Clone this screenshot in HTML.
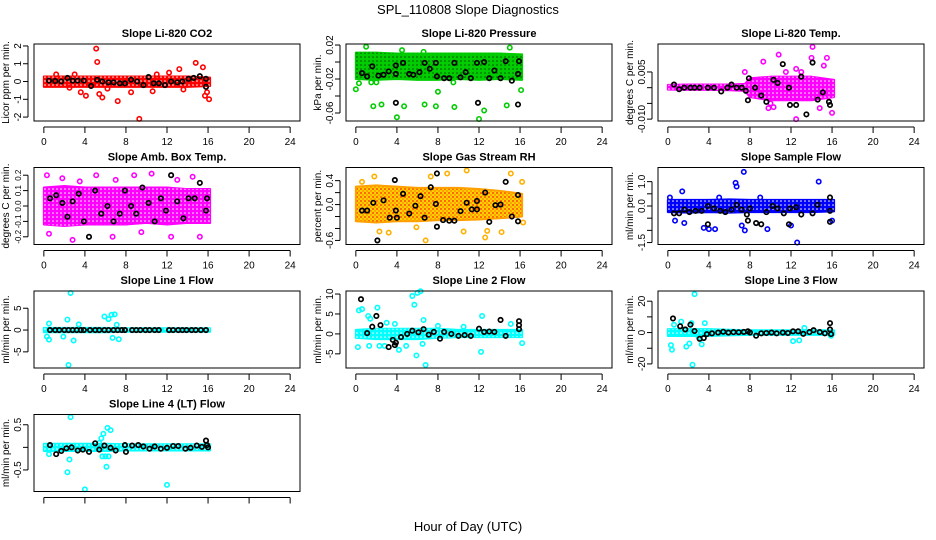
<!DOCTYPE html>
<html><head><meta charset="utf-8"><style>
body{margin:0;background:#fff}
svg{display:block;font-family:"Liberation Sans",sans-serif}
</style></head><body>
<svg id="chart" width="936" height="540" viewBox="0 0 936 540">
<defs>
<pattern id="speck" width="4" height="4" patternUnits="userSpaceOnUse"><circle cx="1" cy="1" r="0.8" fill="#fff"/></pattern>
<pattern id="speck2" width="4" height="4" patternUnits="userSpaceOnUse"><circle cx="1" cy="1" r="0.8" fill="#000" opacity="0.6"/></pattern>
<pattern id="speck3" width="4" height="4" patternUnits="userSpaceOnUse"><rect width="4" height="4" fill="#ffd000"/><circle cx="1" cy="1" r="0.9" fill="#ff2000"/><circle cx="3" cy="3" r="0.9" fill="#ff8000"/></pattern>
</defs>
<text x="468" y="14" text-anchor="middle" font-size="13">SPL_110808  Slope Diagnostics</text>
<text x="468" y="531" text-anchor="middle" font-size="13">Hour of Day (UTC)</text>
</svg>
<script>
const titles=["Slope Li-820 CO2","Slope Li-820 Pressure","Slope Li-820 Temp.","Slope Amb. Box Temp.","Slope Gas Stream RH","Slope Sample Flow","Slope Line 1 Flow","Slope Line 2 Flow","Slope Line 3 Flow","Slope Line 4 (LT) Flow"];
const yTitles=["Licor ppm per min.","kPa per min.","degrees C per min.","degrees C per min.","percent per min.","ml/min per min.","ml/min per min.","ml/min per min.","ml/min per min.","ml/min per min."];
const yLims=[[-2.22,2.11],[-0.0694,0.0212],[-0.0106,0.0139],[-0.25,0.25],[-0.668,0.62],[-1.58,1.58],[-8.7,8.95],[-8.55,10.76],[-22.6,26.5],[-0.977,0.727]];
const yTicks=[[-2,-1,0,1,2],[-0.06,-0.04,-0.02,0,0.02],[-0.01,-0.005,0,0.005],[-0.2,-0.1,0,0.1,0.2],[-0.6,-0.4,-0.2,0,0.2,0.4],[-1.5,-1,-0.5,0,0.5,1],[-5,0,5],[-5,0,5,10],[-20,-10,0,10,20],[-0.5,0,0.5]];
const yTickLabels=[["-2","-1","0","1","2"],["-0.06","","-0.02","","0.02"],["-0.010","","","0.005"],["-0.2","-0.1","0.0","0.1","0.2"],["-0.6","","","0.0","","0.4"],["-1.5","","","0.0","","1.0"],["-5","0","5"],["-5","0","5","10"],["-20","","0","","20"],["-0.5","","0.5"]];
const xTicks=[0,4,8,12,16,20,24];
const colors=["#ff0000","#00cc00","#ff00ff","#ff00ff","#ffa000","#0000ff","#00ffff","#00ffff","#00ffff","#00ffff"];
const bandX=[[0,2,4,6,8,10,12,14,16.2],[0,2,4,6,8,10,12,14,16.2],[0,2,4,6,7.5,8,10,12,14,16.2],[0,2,4,6,8,10,12,14,16.2],[0,2,4,6,8,10,12,14,16.2],[0,2,4,6,8,10,12,14,16.2],[0,2,4,6,8,10,12,14,16.2],[0,2,4,6,8,10,12,14,16.2],[0,2,4,6,8,10,12,14,16.2],[0,2,4,6,8,10,12,14,16.2]];
const bandLo=[[-0.3,-0.3,-0.3,-0.3,-0.3,-0.3,-0.3,-0.3,-0.25],[-0.02,-0.021,-0.02,-0.021,-0.021,-0.02,-0.021,-0.02,-0.021],[-0.0006,-0.0007,-0.0007,-0.0008,-0.001,-0.003,-0.004,-0.004,-0.004,-0.003],[-0.12,-0.13,-0.12,-0.12,-0.12,-0.11,-0.12,-0.11,-0.11],[-0.28,-0.3,-0.28,-0.28,-0.26,-0.26,-0.25,-0.23,-0.2],[-0.25,-0.27,-0.25,-0.27,-0.25,-0.25,-0.25,-0.25,-0.22],[-0.5,-0.5,-0.5,-0.5,-0.4,-0.4,-0.4,-0.4,-0.4],[-1.0,-1.3,-1.3,-1.3,-1.0,-0.8,-0.8,-0.8,-0.8],[-2.2,-2.2,-2.2,-1.8,-1.5,-1.5,-1.5,-1.5,-1.5],[-0.08,-0.08,-0.08,-0.08,-0.07,-0.07,-0.07,-0.07,-0.07]];
const bandHi=[[0.28,0.28,0.28,0.28,0.28,0.28,0.28,0.28,0.22],[0.011,0.011,0.01,0.01,0.01,0.01,0.01,0.01,0.009],[0.0009,0.001,0.001,0.001,0.0012,0.003,0.0035,0.0035,0.0035,0.0025],[0.12,0.13,0.12,0.12,0.12,0.12,0.12,0.11,0.11],[0.3,0.32,0.3,0.28,0.28,0.28,0.26,0.23,0.18],[0.25,0.25,0.25,0.27,0.25,0.25,0.25,0.25,0.25],[0.5,0.5,0.5,0.5,0.4,0.4,0.4,0.4,0.4],[1.0,1.3,1.3,1.3,1.3,1.0,1.0,1.0,1.0],[2.2,2.2,2.2,1.8,1.5,1.5,1.5,1.5,1.5],[0.08,0.08,0.08,0.08,0.07,0.07,0.07,0.07,0.07]];
const outliers=[
[[5.1,1.85],[5.2,1.1],[5.4,-0.7],[5.7,-0.9],[7.2,-1.1],[9.3,-2.1],[4.1,-0.8],[3.6,-0.6],[10.6,-0.55],[13.2,0.7],[14.8,1.05],[15.5,0.8],[16.1,-1.0],[15.9,-0.6],[15.7,-0.8],[12.2,0.5],[13.6,-0.45],[8.5,-0.6],[6.2,-0.4],[1.2,0.4],[2.5,-0.35],[11.0,0.4],[3.0,0.4]],
[[0,-0.032],[0.3,-0.025],[1.0,0.018],[2.0,-0.024],[1.7,-0.052],[2.5,-0.05],[4.0,-0.065],[4.7,-0.052],[6.6,0.012],[6.7,-0.05],[8.0,-0.035],[9.6,-0.053],[12.0,-0.067],[12.5,-0.057],[14.7,-0.051],[15.0,0.017],[16.1,-0.033],[7.8,-0.052],[1.5,-0.024],[4.5,0.014],[9.5,-0.024]],
[[9.3,0.0083],[10.8,0.0105],[12.5,0.006],[14.1,0.013],[14.0,0.0095],[15.2,0.007],[15.5,0.0095],[12.5,-0.010],[9.8,-0.0065],[10.3,-0.0062],[14.8,-0.0065],[16.0,-0.008],[7.5,0.005],[13,0.005],[11.5,0.005],[10.0,-0.005]],
[[0.3,0.2],[0.5,-0.18],[2.8,-0.22],[5.1,0.2],[8.8,0.2],[10.5,0.21],[12.4,-0.2],[14.5,0.19],[15.2,-0.2],[6.7,-0.2],[1.8,0.18],[3.5,0.16],[7.0,0.17],[9.5,-0.17],[13,0.17]],
[[0.6,0.38],[1.8,0.47],[2.3,-0.45],[3.2,-0.47],[7.3,0.47],[6.8,-0.6],[5.9,-0.38],[8.9,0.52],[10.5,-0.45],[10.8,0.57],[12.6,-0.55],[12.8,-0.44],[14.2,-0.46],[15.1,0.52],[16.2,0.38],[16.3,-0.3]],
[[1.4,0.6],[1.6,-0.7],[0.7,-0.6],[3.5,-0.9],[4.0,-0.95],[4.6,-0.95],[6.6,0.95],[6.7,0.8],[7.4,1.4],[7.2,-0.8],[7.5,-1.0],[9.7,-0.95],[12.6,-1.5],[12.0,-0.8],[14.7,1.0],[16.0,-0.6],[0.2,0.35],[5.0,0.35],[9.0,0.35]],
[[0.5,1.5],[0.3,-1.5],[0.5,-2.2],[2.3,2.4],[2.6,8.5],[2.4,-8],[2.9,-2.4],[3.4,1.3],[1.9,-1.5],[5.9,3.1],[6.3,2.5],[6.6,3.5],[6.9,3.6],[7.3,-2.1],[6.7,-1.8],[7.1,1.2]],
[[0.2,-3.3],[0.3,5.9],[0.6,6.2],[1.2,4.5],[1.4,3.8],[1.3,-3],[2.1,6.6],[2.3,-3],[2.8,-3],[3.0,2.8],[3.8,2.5],[4.9,-3],[5.5,9.5],[5.7,7.3],[6.0,10.3],[6.3,10.7],[5.9,-5.4],[6.5,-2.5],[6.6,3.5],[6.8,-7.8],[12.3,4.5],[12.2,-4.5],[15.1,2.5],[16.2,-2.3],[4.2,-4],[8.0,2],[10.5,1.8]],
[[0.3,-8],[0.4,-11],[0.6,5],[1.3,7],[1.8,-9],[2.1,-7],[2.3,6],[2.6,24.5],[2.4,-20.5],[3.3,-7.5],[3.6,6],[3.0,-3],[12.2,-5.5],[12.8,-5],[13.3,3],[15.9,-2]],
[[2.6,0.67],[2.5,-0.27],[2.3,-0.55],[4.0,-0.93],[5.4,0.1],[5.6,0.2],[5.8,0.3],[6.2,0.43],[6.5,0.38],[5.7,-0.2],[6.0,-0.2],[6.3,-0.2],[6.1,-0.43],[12.0,-0.83],[0.5,-0.15]]];
const blackPts=[
[[0.5,0.05],[1.1,0.03],[1.7,0],[2.3,0.2],[2.8,0.05],[3.3,0.05],[3.9,0.05],[4.6,-0.25],[5.2,0.1],[5.7,0],[6.3,-0.05],[6.8,-0.05],[7.4,-0.1],[7.9,-0.1],[8.5,0.1],[9.1,0],[9.7,-0.2],[10.2,0.25],[10.7,-0.1],[11.2,-0.1],[11.8,-0.2],[12.4,0],[13.0,-0.05],[13.5,0],[14.1,0.15],[14.6,0.2],[15.2,0.3],[15.8,-0.3],[15.8,0.15]],
[[0.6,-0.013],[1.1,-0.017],[1.6,-0.005],[2.2,-0.016],[2.7,-0.015],[3.2,-0.011],[3.9,-0.014],[3.9,-0.004],[3.9,-0.048],[4.6,-0.001],[5.2,-0.014],[5.6,-0.015],[6.2,-0.012],[6.7,-0.001],[7.2,-0.008],[7.8,-0.001],[7.9,-0.017],[8.6,-0.019],[9.1,-0.019],[9.6,-0.001],[10.2,-0.018],[10.7,-0.012],[11.2,-0.019],[11.8,-0.001],[11.9,-0.048],[12.5,0],[13.0,-0.019],[13.5,-0.01],[14.1,-0.019],[14.6,0.001],[15.2,-0.022],[15.8,-0.014],[15.8,-0.05],[15.9,0.001]],
[[0.6,0.001],[1.1,-0.0005],[1.6,0],[2.2,0],[2.6,0],[3.1,0],[3.9,0],[4.5,0],[5.2,-0.0012],[5.8,0],[6.2,0.001],[6.7,0],[7.2,0],[7.6,-0.001],[7.8,-0.004],[7.9,0.003],[8.5,0],[9.1,-0.0025],[9.6,-0.0045],[10.3,0.0025],[10.7,0.0015],[11.2,0.0075],[11.8,0],[11.9,-0.0055],[12.5,-0.0055],[13.0,0.0035],[13.5,-0.0085],[14.1,0.008],[14.6,-0.0038],[15.1,-0.0015],[15.7,-0.0045],[15.8,-0.0055]],
[[0.6,0.05],[1.2,0.07],[1.8,0.02],[2.3,-0.07],[2.8,0.03],[3.4,0.08],[3.9,-0.1],[4.4,-0.2],[5.0,0.1],[5.6,-0.05],[6.2,0],[6.8,-0.1],[7.4,-0.05],[7.9,0.1],[8.5,0],[9.0,-0.05],[9.6,0.12],[10.2,0.02],[10.8,-0.1],[11.4,0.05],[11.9,-0.03],[12.4,0.2],[13.0,0.03],[13.6,-0.08],[14.1,0.05],[14.7,0.05],[15.2,0.15],[15.8,-0.03],[15.9,0.05]],
[[0.6,-0.1],[1.1,-0.1],[1.7,0.03],[2.1,-0.6],[2.7,0.07],[3.3,-0.22],[3.8,0.41],[3.9,-0.1],[4.0,-0.22],[4.6,0.18],[5.2,-0.15],[5.8,-0.02],[6.3,0.14],[6.7,-0.22],[7.3,0.29],[7.8,0.01],[7.9,-0.37],[7.9,0.52],[8.5,-0.26],[9.1,-0.27],[9.6,-0.27],[10.2,-0.11],[10.8,0.03],[11.3,-0.08],[11.8,-0.08],[11.8,0.06],[12.6,0.2],[13.0,-0.29],[13.6,-0.01],[14.1,0],[14.6,0.38],[15.2,-0.2],[15.8,-0.28],[15.8,0.16]],
[[0.6,-0.3],[1.1,-0.3],[1.6,-0.15],[2.1,-0.25],[2.7,-0.2],[3.3,-0.2],[3.9,0],[3.9,-0.75],[4.5,-0.1],[5.1,-0.2],[5.6,-0.25],[6.2,-0.15],[6.7,0.05],[7.2,-0.15],[7.7,-0.35],[7.8,-0.6],[8.0,-0.1],[8.6,-0.7],[9.1,-0.75],[9.6,-0.25],[10.2,0],[10.7,-0.1],[11.3,-0.3],[11.8,-0.75],[11.9,-0.1],[12.5,-0.05],[13.0,-0.35],[14.1,-0.3],[14.6,0.05],[15.8,0.35],[15.8,-0.65],[15.8,-0.2]],
[[0.6,0],[1.1,0],[1.5,0],[2.0,0],[2.4,0],[2.8,0],[3.2,0],[3.6,0],[3.9,0],[4.5,0],[5.0,0],[5.4,0],[5.9,0],[6.3,0],[6.8,0],[7.2,0],[7.6,0],[7.9,0],[8.6,0],[9.0,0],[9.4,0],[9.9,0],[10.3,0],[10.8,0],[11.2,0],[12.2,0],[12.6,0],[13.1,0],[13.5,0],[13.9,0],[14.4,0],[14.8,0],[15.3,0],[15.8,0]],
[[0.5,8.7],[1.1,0.2],[1.6,1.8],[2.0,4.5],[2.4,2.2],[3.2,-3.3],[3.6,-1.5],[3.8,-2.8],[3.9,-2.2],[4.4,-0.8],[5.0,0],[5.5,0.8],[6.1,0.4],[6.6,1.2],[7.1,-0.2],[7.6,0.5],[8.2,-1.2],[8.6,0.5],[9.3,0],[10.0,-0.5],[10.6,-0.3],[11.2,-0.5],[12.0,1.3],[12.5,0.5],[13.0,0.6],[13.5,0.5],[14.1,3.5],[14.6,-0.5],[15.9,3.2],[15.9,2.2],[15.9,1.2]],
[[0.5,9],[1.2,4],[1.7,2],[2.2,5],[2.6,1],[3.1,-4],[3.5,-3.5],[3.8,-1],[4.3,-0.5],[4.9,0],[5.4,0.5],[5.9,0],[6.4,0.3],[6.9,0.2],[7.4,0.4],[7.8,0.8],[8.0,0],[8.6,-2],[9.1,-0.5],[9.6,-0.3],[10.1,0],[10.6,-0.5],[11.2,0],[11.7,-0.3],[12.2,0.8],[12.7,0.8],[13.2,-0.8],[13.8,0.3],[14.2,1.5],[14.8,0.3],[15.3,-0.5],[15.8,6],[15.8,2],[15.9,-1]],
[[0.6,0.05],[1.2,-0.15],[1.7,-0.08],[2.2,-0.02],[2.7,0],[3.3,-0.07],[3.8,-0.05],[4.4,-0.1],[5.0,0.09],[5.4,-0.05],[5.9,0.04],[6.5,-0.01],[7.0,-0.07],[7.9,0.05],[8.0,-0.1],[8.6,0.04],[9.2,0.05],[9.7,0.02],[10.3,-0.03],[10.8,0.02],[11.4,-0.03],[12.0,-0.01],[12.6,0.03],[13.1,0.03],[13.8,-0.03],[14.3,-0.01],[14.9,0.04],[15.4,0.01],[15.8,0.15],[15.9,0.05],[16.0,0]]];

const NS="http://www.w3.org/2000/svg";
const svg=document.getElementById('chart');
function mk(tag,attrs,parent){const e=document.createElementNS(NS,tag);for(const k in attrs)e.setAttribute(k,attrs[k]);(parent||svg).appendChild(e);return e;}
const W=266,H=77;
for(let p=0;p<10;p++){
  const c=p%3,r=Math.floor(p/3);
  const L=34+312*c, T=44+123.5*r;
  const g=mk('g',{});
  
  
  const xs=v=>L+(v+0.96)/25.92*W;
  const [y0,y1]=yLims[p];
  const ys=v=>T+(y1-v)/(y1-y0)*H;
  let pts=bandX[p].map((x,i)=>xs(x)+','+ys(bandHi[p][i]));
  pts=pts.concat(bandX[p].map((x,i)=>xs(x)+','+ys(bandLo[p][i])).reverse());
  const band=mk('polygon',{points:pts.join(' '),fill:p==4?'url(#speck3)':colors[p],stroke:colors[p],'stroke-width':2,'stroke-linejoin':'round'},g);
  
  
  if(p!=4){
    const ov=mk('polygon',{points:pts.join(' '),fill:p==1?'url(#speck2)':'url(#speck)'},g);
    
    
  }
  outliers[p].forEach(q=>{
    const e=mk('circle',{cx:xs(q[0]),cy:ys(q[1]),r:2.2,fill:'none',stroke:p==4?'#ffb000':colors[p],'stroke-width':1.6},g);
    
    
  });
  blackPts[p].forEach(q=>{
    const e=mk('circle',{cx:xs(q[0]),cy:ys(q[1]),r:2.2,fill:'none',stroke:'#000','stroke-width':1.7},g);
    
    
  });
  const box=mk('rect',{x:L,y:T,width:W,height:H,fill:'none',stroke:'#000','stroke-width':1},g);
  
  
  const tt=mk('text',{x:L+W/2,y:T-7,'text-anchor':'middle','font-size':11,'font-weight':'bold'},g);
  tt.textContent=titles[p];
  
  
  const yt=mk('text',{transform:`translate(${L-25},${T+H/2}) rotate(-90)`,'text-anchor':'middle','font-size':10},g);
  yt.textContent=yTitles[p];
  
  
  mk('line',{x1:xs(0),x2:xs(24),y1:T+H+6,y2:T+H+6,stroke:'#000'},g);
  xTicks.forEach(v=>{
    mk('line',{x1:xs(v),x2:xs(v),y1:T+H+6,y2:T+H+12,stroke:'#000'},g);
    if(r<3){const t=mk('text',{x:xs(v),y:T+H+24,'text-anchor':'middle','font-size':10},g);t.textContent=v;
    
    }
  });
  const yt0=yTicks[p];
  mk('line',{x1:L-6,x2:L-6,y1:ys(yt0[0]),y2:ys(yt0[yt0.length-1]),stroke:'#000'},g);
  yt0.forEach((v,i)=>{
    mk('line',{x1:L-6,x2:L-11,y1:ys(v),y2:ys(v),stroke:'#000'},g);
    const lab=yTickLabels[p][i];
    if(lab){const t=mk('text',{transform:`translate(${L-13},${ys(v)}) rotate(-90)`,'text-anchor':'middle','font-size':p==3?8:10},g);t.textContent=lab;
    
    }
  });
}
</script>
</body></html>
